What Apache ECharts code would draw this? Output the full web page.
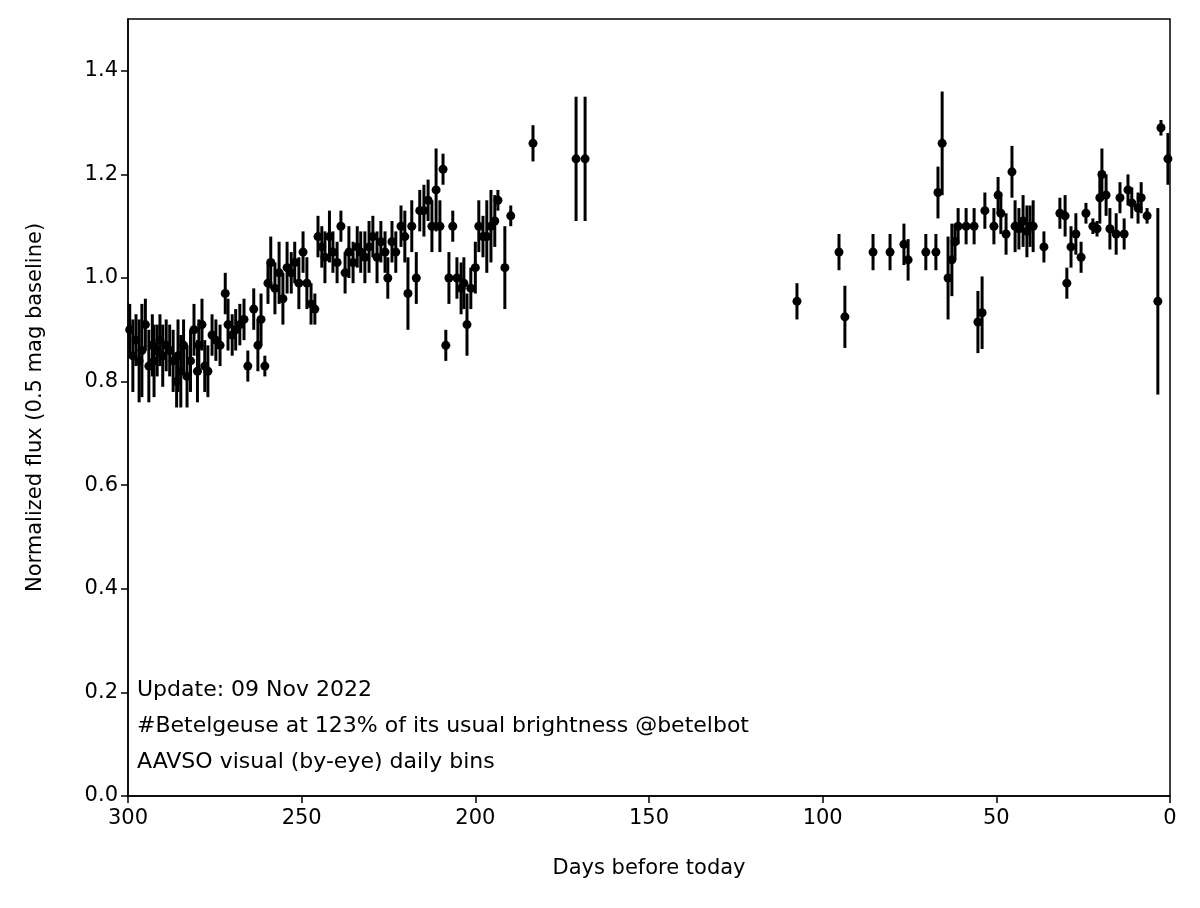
<!DOCTYPE html>
<html>
<head>
  <meta charset="utf-8">
  <title>Betelgeuse</title>
  <script src="https://cdn.jsdelivr.net/npm/echarts@6/dist/echarts.min.js"></script>
  <style>
    html, body { margin: 0; padding: 0; background: #fff; }
    #chart { width: 1200px; height: 908px; }
  </style>
</head>
<body>
<div id="chart"></div>
<script>
// [days before today, normalized flux, error]
const points = [
  [299.5,0.90,0.05],[298.6,0.85,0.07],[297.7,0.88,0.05],[296.8,0.84,0.08],[296,0.86,0.09],
  [295,0.91,0.05],[294,0.83,0.07],[293,0.87,0.06],[292.5,0.84,0.07],[291.6,0.86,0.05],
  [290.8,0.88,0.05],[290,0.85,0.06],[289,0.87,0.05],[288,0.86,0.05],[287,0.84,0.06],
  [286,0.80,0.05],[285.6,0.85,0.07],[284.8,0.82,0.07],[284,0.87,0.05],[283,0.81,0.06],
  [282,0.84,0.06],[281,0.90,0.05],[280,0.82,0.06],[279.6,0.87,0.05],[278.7,0.91,0.05],
  [277.9,0.83,0.05],[277,0.82,0.05],[275.8,0.89,0.04],[274.7,0.88,0.04],[273.5,0.87,0.04],
  [272,0.97,0.04],[271.2,0.91,0.05],[270,0.89,0.04],[269,0.90,0.04],[267.8,0.91,0.04],
  [266.6,0.92,0.04],[265.5,0.83,0.03],[263.8,0.94,0.04],[262.6,0.87,0.05],[261.7,0.92,0.05],
  [260.6,0.83,0.02],[259.7,0.99,0.04],[258.9,1.03,0.05],[257.7,0.98,0.05],[256.5,1.01,0.06],
  [255.4,0.96,0.05],[254.2,1.02,0.05],[253,1.01,0.04],[252,1.03,0.04],[250.8,0.99,0.05],
  [249.6,1.05,0.04],[248.5,0.99,0.05],[247.3,0.95,0.04],[246.2,0.94,0.03],[245.3,1.08,0.04],
  [244.2,1.06,0.04],[243.3,1.04,0.05],[242,1.08,0.05],[241,1.05,0.04],[239.8,1.03,0.04],
  [238.7,1.10,0.03],[237.5,1.01,0.04],[236.4,1.05,0.05],[235.2,1.03,0.04],[234,1.06,0.04],
  [233,1.05,0.04],[231.8,1.04,0.05],[230.6,1.06,0.05],[229.5,1.08,0.04],[228.3,1.04,0.05],
  [227.2,1.07,0.04],[226,1.05,0.04],[225.2,1.00,0.04],[224,1.07,0.04],[222.9,1.05,0.04],
  [221.4,1.10,0.04],[220.3,1.08,0.05],[219.4,0.97,0.07],[218.3,1.10,0.05],[217,1.00,0.05],
  [216,1.13,0.04],[214.8,1.13,0.05],[213.6,1.15,0.04],[212.5,1.10,0.05],[211.3,1.17,0.08],
  [210.2,1.10,0.05],[209.3,1.21,0.03],[208.5,0.87,0.03],[207.6,1.00,0.05],[206.5,1.10,0.03],
  [205.3,1.00,0.04],[204.1,0.98,0.05],[203.3,0.99,0.05],[202.4,0.91,0.06],[201.3,0.98,0.04],
  [200,1.02,0.05],[199,1.10,0.05],[197.8,1.08,0.04],[196.7,1.08,0.07],[195.5,1.10,0.07],
  [194.4,1.11,0.05],[193.5,1.15,0.02],[191.5,1.02,0.08],[189.8,1.12,0.02],[183.4,1.26,0.035],
  [171,1.23,0.12],[168.4,1.23,0.12],
  [107.4,0.955,0.035],[95.3,1.05,0.035],[93.6,0.925,0.06],[85.5,1.05,0.035],[80.6,1.05,0.035],
  [76.6,1.065,0.04],[75.4,1.035,0.04],[70.3,1.05,0.035],[67.4,1.05,0.035],[66.8,1.165,0.05],
  [65.6,1.26,0.1],[63.9,1.00,0.08],[62.8,1.035,0.07],[61.9,1.07,0.035],[61,1.10,0.035],
  [58.7,1.10,0.035],[56.4,1.10,0.035],[55.3,0.915,0.06],[54.1,0.933,0.07],[53.3,1.13,0.035],
  [50.7,1.10,0.035],[49.5,1.16,0.035],[48.7,1.125,0.04],[47.2,1.085,0.04],[45.5,1.205,0.05],
  [44.6,1.10,0.05],[43.5,1.095,0.04],[42.3,1.11,0.05],[41.2,1.09,0.05],[40.3,1.10,0.04],
  [39.4,1.10,0.05],[36.3,1.06,0.03],[31.7,1.125,0.03],[30.2,1.12,0.04],[29.7,0.99,0.03],
  [28.5,1.06,0.04],[27.1,1.085,0.04],[25.6,1.04,0.03],[24.2,1.125,0.02],[22.2,1.10,0.015],
  [21,1.095,0.015],[20.2,1.155,0.05],[19.6,1.20,0.05],[18.4,1.16,0.04],[17.3,1.095,0.04],
  [15.5,1.085,0.04],[14.4,1.155,0.03],[13.2,1.085,0.03],[12.1,1.17,0.03],[11,1.145,0.03],
  [9.2,1.135,0.03],[8.3,1.155,0.03],[6.6,1.12,0.015],[3.5,0.955,0.18],[2.6,1.29,0.015],
  [0.6,1.23,0.05]
];
const xTicks = [0, 50, 100, 150, 200, 250, 300];
const yTicks = [0, 0.2, 0.4, 0.6, 0.8, 1.0, 1.2, 1.4];
const noteLines = [
  'Update: 09 Nov 2022',
  '#Betelgeuse at 123% of its usual brightness @betelbot',
  'AAVSO visual (by-eye) daily bins'
];

const chart = echarts.init(document.getElementById('chart'));
const font = 'DejaVu Sans';
chart.setOption({
  animation: false,
  grid: { left: 128, right: 30, top: 19, bottom: 112, show: true, borderColor: '#000', borderWidth: 1.5 },
  xAxis: {
    type: 'value', inverse: true, min: 0, max: 300, interval: 50,
    name: 'Days before today', nameLocation: 'middle', nameGap: 62,
    nameTextStyle: { fontFamily: font, fontSize: 21, color: '#000' },
    axisLine: { onZero: false, lineStyle: { color: '#000', width: 1.5 } },
    axisTick: { inside: false, length: 7, lineStyle: { color: '#000', width: 1.5 } },
    axisLabel: { fontFamily: font, fontSize: 21, color: '#000', margin: 12,
      formatter: v => xTicks.includes(v) ? String(v) : '' },
    splitLine: { show: false }
  },
  yAxis: {
    type: 'value', position: 'left', min: 0, max: 1.5, interval: 0.2,
    name: 'Normalized flux (0.5 mag baseline)', nameLocation: 'middle', nameGap: 82,
    nameTextStyle: { fontFamily: font, fontSize: 21, color: '#000' },
    axisLine: { onZero: false, lineStyle: { color: '#000', width: 1.5 } },
    axisTick: { inside: false, length: 7, lineStyle: { color: '#000', width: 1.5 } },
    axisLabel: { fontFamily: font, fontSize: 21, color: '#000', margin: 10, showMaxLabel: false,
      formatter: v => yTicks.some(t => Math.abs(t - v) < 1e-6) ? v.toFixed(1) : '' },
    splitLine: { show: false }
  },
  graphic: [{
    type: 'text', left: 137, top: 672,
    style: { text: noteLines.join('\n'), fontFamily: font, fontSize: 22, lineHeight: 36, fill: '#000' }
  }],
  series: [
    {
      type: 'custom',
      data: points,
      renderItem: function (params, api) {
        const x = api.value(0), y = api.value(1), e = api.value(2);
        const p1 = api.coord([x, y - e]);
        const p2 = api.coord([x, y + e]);
        return { type: 'line', shape: { x1: p1[0], y1: p1[1], x2: p2[0], y2: p2[1] },
          style: { stroke: '#000', lineWidth: 3 } };
      },
      encode: { x: 0, y: 1 },
      z: 2
    },
    {
      type: 'scatter',
      data: points.map(p => [p[0], p[1]]),
      symbolSize: 9,
      itemStyle: { color: '#000', opacity: 1 },
      z: 3
    }
  ]
});
</script>
</body>
</html>
